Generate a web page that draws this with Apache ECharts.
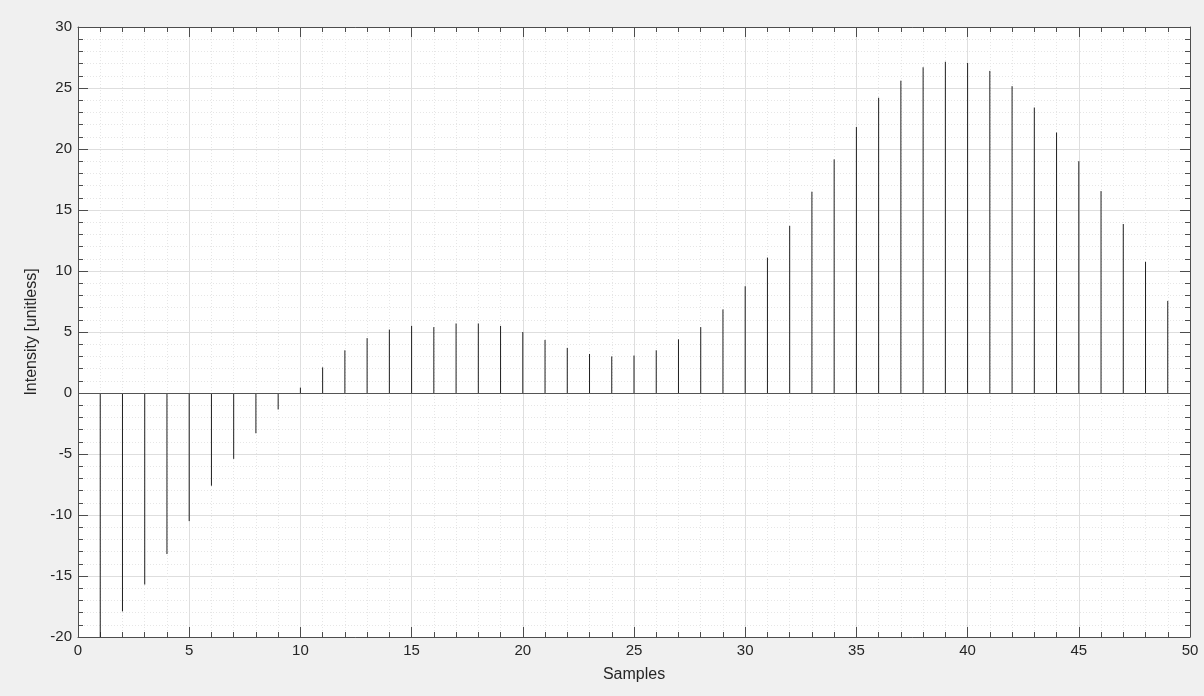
<!DOCTYPE html>
<html><head><meta charset="utf-8">
<script src="https://cdn.jsdelivr.net/npm/echarts@6/dist/echarts.min.js"></script>
<style>html,body{margin:0;padding:0;background:#f0f0f0}#c{width:1204px;height:696px}</style>
</head><body><div id="c"></div>
<script>
const samples = [1,2,3,4,5,6,7,8,9,10,11,12,13,14,15,16,17,18,19,20,21,22,23,24,25,26,27,28,29,30,31,32,33,34,35,36,37,38,39,40,41,42,43,44,45,46,47,48,49];
const intensity = [-20,-17.9,-15.7,-13.2,-10.5,-7.6,-5.4,-3.3,-1.35,0.44,2.1,3.5,4.5,5.2,5.5,5.4,5.7,5.7,5.5,5.0,4.35,3.7,3.2,3.0,3.07,3.5,4.4,5.4,6.85,8.75,11.1,13.7,16.5,19.15,21.8,24.2,25.6,26.7,27.15,27.05,26.4,25.15,23.4,21.35,19.0,16.55,13.85,10.75,7.55];
const xTicks = [0,5,10,15,20,25,30,35,40,45,50];
const yTicks = [-20,-15,-10,-5,0,5,10,15,20,25,30];
const xTitle = 'Samples';
const yTitle = 'Intensity [unitless]';

const FONT = '"Liberation Sans", Arial, Helvetica, sans-serif';
const AX = '#4d4d4d';
const data = samples.map((s, i) => [s, intensity[i]]);

function axisCommon(ticks, showLabel, main) {
  return {
    type: 'value',
    min: ticks[0], max: ticks[ticks.length - 1], interval: ticks[1] - ticks[0],
    axisLine: { show: true, onZero: false, lineStyle: { color: AX, width: 1 } },
    axisTick: { show: true, inside: true, length: 10, lineStyle: { color: AX, width: 1 } },
    minorTick: { show: true, splitNumber: 5, length: 5, lineStyle: { color: AX, width: 1 } },
    axisLabel: { show: showLabel, color: '#262626', fontFamily: FONT, fontSize: 15, margin: 6 },
    splitLine: { show: main, lineStyle: { color: '#dedede', width: 1 } },
    minorSplitLine: { show: main, lineStyle: { color: '#e6e6e6', width: 1, type: [1, 2] } }
  };
}

const chart = echarts.init(document.getElementById('c'));
chart.setOption({
  backgroundColor: '#f0f0f0',
  animation: false,
  grid: { left: 78, right: 14, top: 27, bottom: 59, show: true, backgroundColor: '#ffffff', borderWidth: 0 },
  xAxis: [
    Object.assign(axisCommon(xTicks, true, true), { position: 'bottom', name: xTitle, nameLocation: 'middle', nameGap: 30,
      nameTextStyle: { color: '#262626', fontFamily: FONT, fontSize: 16 } }),
    Object.assign(axisCommon(xTicks, false, false), { position: 'top' })
  ],
  yAxis: [
    Object.assign(axisCommon(yTicks, true, true), { position: 'left', name: yTitle, nameLocation: 'middle', nameGap: 31,
      nameTextStyle: { color: '#262626', fontFamily: FONT, fontSize: 16 } }),
    Object.assign(axisCommon(yTicks, false, false), { position: 'right' })
  ],
  series: [{
    type: 'custom',
    xAxisIndex: 0, yAxisIndex: 0,
    data: data,
    renderItem: function (params, api) {
      const x = api.value(0), y = api.value(1);
      const p0 = api.coord([x, 0]), p1 = api.coord([x, y]);
      return { type: 'line', shape: { x1: p0[0], y1: p0[1], x2: p1[0], y2: p1[1] },
        style: { stroke: '#1f1f1f', lineWidth: 1 } };
    },
    markLine: {
      silent: true, symbol: 'none', label: { show: false },
      lineStyle: { color: '#555555', width: 1, type: 'solid' },
      data: [{ yAxis: 0 }]
    }
  }]
});
</script>
</body></html>
